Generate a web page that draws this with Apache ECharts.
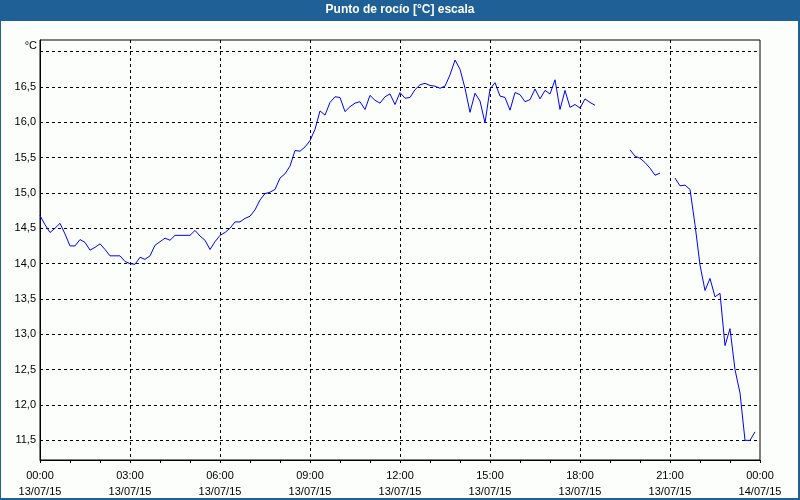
<!DOCTYPE html>
<html><head><meta charset="utf-8">
<script src="https://cdn.jsdelivr.net/npm/echarts@6/dist/echarts.min.js"></script>
<style>html,body{margin:0;padding:0;background:#fff}#c{width:800px;height:500px}</style>
</head><body><div id="c"></div>
<script>
const titleText = 'Punto de rocío [°C] escala';
const unitLabel = '°C';
const stepMinutes = 10; // one reading every 10 minutes, starting 13/07/15 00:00
const dewPoint = [
  14.68,14.55,14.44,14.50,14.57,14.42,14.25,14.25,14.34,14.30,14.19,14.23,
  14.28,14.20,14.11,14.11,14.11,14.03,14.00,13.99,14.09,14.06,14.11,14.26,
  14.31,14.36,14.33,14.40,14.40,14.40,14.40,14.47,14.39,14.33,14.20,14.31,
  14.40,14.44,14.50,14.59,14.59,14.64,14.67,14.76,14.90,14.99,15.01,15.05,
  15.21,15.27,15.38,15.60,15.59,15.65,15.74,15.90,16.16,16.10,16.28,16.36,
  16.35,16.15,16.22,16.27,16.29,16.18,16.38,16.31,16.27,16.36,16.40,16.25,
  16.42,16.34,16.35,16.46,16.53,16.55,16.52,16.51,16.48,16.51,16.67,16.88,
  16.75,16.48,16.14,16.41,16.30,15.99,16.47,16.56,16.37,16.35,16.17,16.42,
  16.39,16.29,16.32,16.47,16.33,16.45,16.40,16.60,16.18,16.45,16.21,16.25,
  16.20,16.33,16.28,16.24,null,null,null,null,null,null,15.61,15.52,
  15.49,15.43,15.35,15.25,15.28,null,null,15.21,15.10,15.11,15.05,14.55,
  13.98,13.62,13.79,13.53,13.58,12.84,13.08,12.50,12.17,11.50,11.50,11.62
];
const yGridValues = [11.5,12.0,12.5,13.0,13.5,14.0,14.5,15.0,15.5,16.0,16.5,17.0];
const yLabelValues = [11.5,12.0,12.5,13.0,13.5,14.0,14.5,15.0,15.5,16.0,16.5];
const xTickMinutes = [0,180,360,540,720,900,1080,1260,1440];
const xTickLabels = ['00:00\n13/07/15','03:00\n13/07/15','06:00\n13/07/15','09:00\n13/07/15',
  '12:00\n13/07/15','15:00\n13/07/15','18:00\n13/07/15','21:00\n13/07/15','00:00\n14/07/15'];

const seriesData = dewPoint.map((v, i) => [i * stepMinutes, v]);
const FONT = "'Liberation Sans', Arial, sans-serif";
const BLUE = '#1f6096';

const chart = echarts.init(document.getElementById('c'), null, {renderer: 'canvas'});
chart.setOption({
  animation: false,
  backgroundColor: '#fcfefc',
  title: {
    text: titleText, left: 'center', top: 4, padding: 0,
    textStyle: {color: '#fff', fontWeight: 'bold', fontSize: 12, fontFamily: FONT}
  },
  graphic: [
    {type: 'rect', shape: {x: 0, y: 0, width: 800, height: 21}, style: {fill: BLUE}, z: 0, silent: true},
    {type: 'rect', shape: {x: 0, y: 0, width: 1, height: 500}, style: {fill: BLUE}, z: 0, silent: true},
    {type: 'rect', shape: {x: 798, y: 0, width: 2, height: 500}, style: {fill: BLUE}, z: 0, silent: true},
    {type: 'rect', shape: {x: 0, y: 498, width: 800, height: 2}, style: {fill: BLUE}, z: 0, silent: true},
    {type: 'text', x: 37, y: 46, style: {text: unitLabel, align: 'right', verticalAlign: 'middle',
      fill: '#000', fontSize: 11, fontFamily: FONT}, z: 10, silent: true}
  ],
  grid: {left: 40, right: 40, top: 40, bottom: 40, show: true, borderColor: '#000', borderWidth: 1,
    backgroundColor: 'transparent'},
  xAxis: {
    type: 'value', min: 0, max: 1440, interval: 180,
    axisLine: {show: true, lineStyle: {color: '#000', width: 1}},
    axisTick: {show: true, length: 3, lineStyle: {color: '#000'}},
    minorTick: {show: true, splitNumber: 3, length: 3, lineStyle: {color: '#000'}},
    splitLine: {show: true, showMinLine: false, showMaxLine: false,
      lineStyle: {color: '#000', type: [3, 3], width: 1}},
    axisLabel: {
      margin: 8, fontSize: 11, lineHeight: 16, color: '#000', fontFamily: FONT,
      showMinLabel: true, showMaxLabel: true,
      formatter: v => { const k = xTickMinutes.indexOf(v); return k >= 0 ? xTickLabels[k] : ''; }
    }
  },
  yAxis: {
    type: 'value', min: 11.222, max: 17.163,
    axisLine: {show: true, lineStyle: {color: '#000', width: 1}},
    axisTick: {show: false, customValues: yGridValues},
    splitLine: {show: true, lineStyle: {color: '#000', type: [3, 3], width: 1}},
    axisLabel: {
      customValues: yLabelValues, margin: 4, fontSize: 11, color: '#000', fontFamily: FONT,
      formatter: v => v.toFixed(1).replace('.', ',')
    }
  },
  series: [{
    type: 'line', data: seriesData, showSymbol: false, symbol: 'none',
    connectNulls: false, lineStyle: {color: '#0000ff', width: 1}, z: 3
  }]
});
</script></body></html>
